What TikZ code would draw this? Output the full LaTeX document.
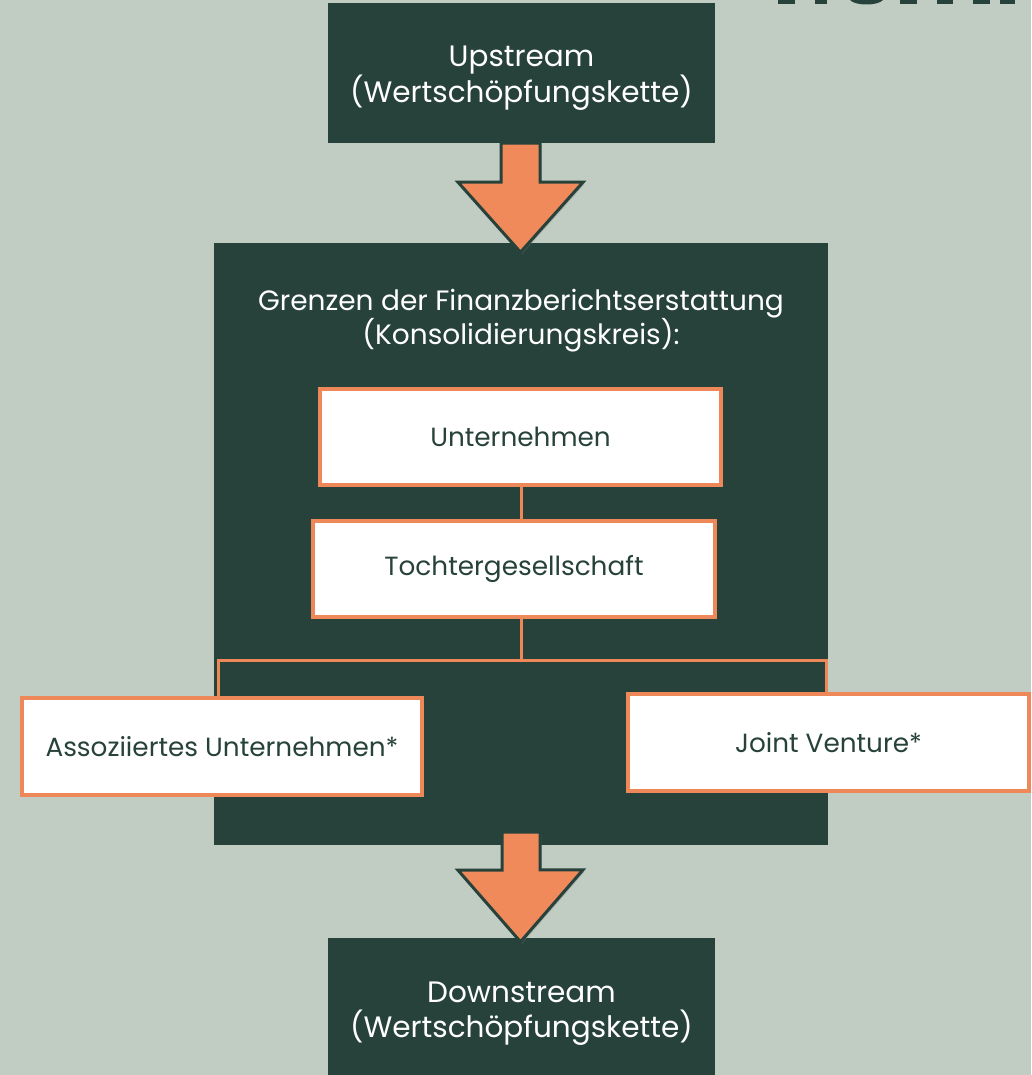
\documentclass[tikz,border=0pt]{standalone}
\usepackage{fontspec}
\setmainfont{Poppins}
\usetikzlibrary{shadows,calc}
\definecolor{bg}{HTML}{C1CCC2}
\definecolor{dk}{HTML}{27423A}
\definecolor{orng}{HTML}{EE8859}
\definecolor{arrowfill}{HTML}{F08A5B}
\pgfdeclarelayer{back}
\pgfdeclarelayer{mid}
\pgfsetlayers{back,mid,main}
\begin{document}
\begin{tikzpicture}[x=1pt,y=-1pt,
  darkbox/.style={fill=dk, draw=none, inner sep=0pt},
  lighttxt/.style={text=white, align=center, inner sep=0pt},
  whitebox/.style={fill=white, draw=orng, line width=4pt, text=dk, inner sep=0pt, align=center},
  link/.style={draw=orng, line width=3pt},
  blockarrow/.style={fill=arrowfill, draw=dk, line width=3pt, line join=miter,
    drop shadow={opacity=0.35, shadow xshift=1.5pt, shadow yshift=-2pt}},
  bigtxt/.style={font=\fontsize{29.5}{35}\selectfont},
  boxtxt/.style={font=\fontsize{26.3}{30}\selectfont}]
\clip (0,0) rectangle (1031,1075);
\begin{pgfonlayer}{back}
\fill[bg] (0,0) rectangle (1031,1075);
% cut-off letters at top right
\fill[dk] (778,0) rectangle (795,4);
\fill[dk] (815,0) rectangle (827,4);
\fill[dk] (850,0) .. controls (855,6) and (878,6) .. (883,0) -- cycle;
\fill[dk] (900,0) rectangle (917,4);
\fill[dk] (937,0) rectangle (953,4);
\fill[dk] (973,0) rectangle (990,4);
\fill[dk] (1000,0) rectangle (1015,4);
\node[darkbox, minimum width=387pt, minimum height=140pt] (up) at (521.5,73) {};
\node[darkbox, minimum width=614pt, minimum height=602pt] (main) at (521,544) {};
\node[darkbox, minimum width=387pt, minimum height=147pt] (down) at (521.5,1011.5) {};
\end{pgfonlayer}

\node[lighttxt, bigtxt] (uptxt) at ([yshift=-5pt]up.center) {Upstream\\(Wertschöpfungskette)};
\node[lighttxt, font=\fontsize{28}{34}\selectfont] (title) at (521,321)
  {Grenzen der Finanzberichtserstattung\\(Konsolidierungskreis):};
\node[lighttxt, bigtxt] (downtxt) at ([yshift=-2pt]down.center) {Downstream\\(Wertschöpfungskette)};

\node[whitebox, boxtxt, minimum width=401pt, minimum height=96pt] (unt) at (520.5,437) {Unternehmen};
\node[whitebox, boxtxt, minimum width=402pt, minimum height=96pt] (toch) at (514,569) {Tochtergesellschaft};
\node[whitebox, boxtxt, minimum width=400pt, minimum height=97pt] (assoc) at (222,746.5) {Assoziiertes Unternehmen*};
\node[whitebox, boxtxt, minimum width=401pt, minimum height=97pt] (jv) at (828.5,742.5) {Joint Venture*};

\coordinate (split) at (521,660);
\coordinate (lt) at (218,660);
\coordinate (rt) at (826,660);

\begin{pgfonlayer}{mid}
\draw[link] (unt.south -| split) -- (split |- toch.north);
\draw[link] (toch.south -| split) -- (split);
\draw[link] (lt |- assoc.north) -- (lt) -- (rt) -- (rt |- jv.north);
\end{pgfonlayer}

% block arrows
\draw[blockarrow] ($(up.south)+(-20.5,0)$) -- ++(0,39) -- ++(-43,0) -- ($(up.south)+(-1,109)$)
  -- ++(62.5,-70) -- ++(-43,0) -- ($(up.south)+(18.5,0)$) -- cycle;
\draw[blockarrow] ($(main.south)+(-19,-13)$) -- ++(0,38) -- ++(-44,0) -- ($(down.north)+(-1,4)$)
  -- ++(62.5,-72) -- ++(-43,0) -- ($(main.south)+(19,-13)$) -- cycle;
\end{tikzpicture}
\end{document}
